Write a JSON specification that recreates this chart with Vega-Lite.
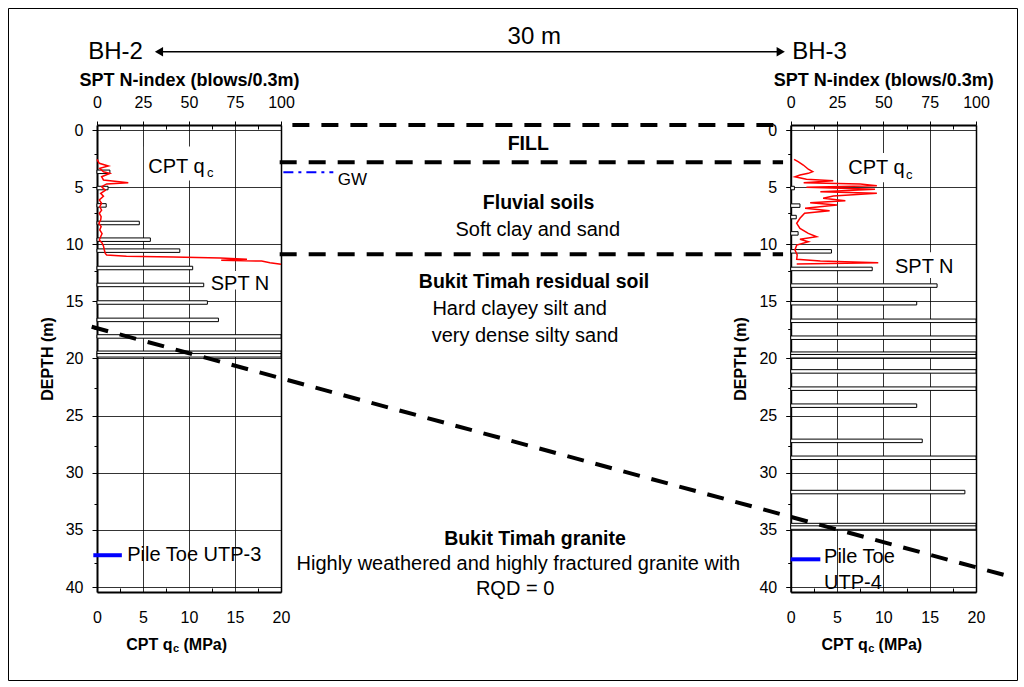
{
  "$schema": "https://vega.github.io/schema/vega-lite/v6.json",
  "width": 1009,
  "height": 672,
  "autosize": "none",
  "padding": {"left": 8, "top": 8, "right": 7, "bottom": 7},
  "background": "white",
  "config": {
    "font": "Liberation Sans",
    "view": {"stroke": "black", "strokeWidth": 1},
    "axis": {
      "labelFont": "Liberation Sans", "labelFontSize": 16, "labelColor": "black",
      "titleFont": "Liberation Sans", "titleColor": "black", "titleFontSize": 16, "titleFontWeight": "bold",
      "domainColor": "black", "tickColor": "black", "gridColor": "black", "gridOpacity": 1, "gridWidth": 0.8,
      "labelFlush": false, "labelOverlap": false, "labelBound": false
    },
    "text": {"font": "Liberation Sans", "color": "black"}
  },
  "resolve": {"scale": {"x": "independent", "y": "independent"}, "axis": {"x": "independent", "y": "independent"}},
  "layer": [
    {
      "data": {"values": [
        {"depth": 3.66, "N": 7}, {"depth": 5.08, "N": 6}, {"depth": 6.6, "N": 5}, {"depth": 8.14, "N": 23},
        {"depth": 9.6, "N": 29}, {"depth": 10.56, "N": 45}, {"depth": 12.08, "N": 52}, {"depth": 13.56, "N": 58},
        {"depth": 15.1, "N": 60}, {"depth": 16.62, "N": 66}, {"depth": 18.07, "N": 100}, {"depth": 19.5, "N": 100},
        {"depth": 19.72, "N": 100}
      ]},
      "mark": {"type": "bar", "orient": "horizontal", "height": 3.5, "fill": "white", "stroke": "black", "strokeWidth": 1},
      "encoding": {
        "x": {"field": "N", "type": "quantitative", "stack": null,
          "scale": {"domain": [0, 100], "range": [89, 273], "nice": false},
          "axis": {"orient": "top", "offset": -117, "values": [0, 25, 50, 75, 100], "title": "SPT N-index (blows/0.3m)",
            "grid": true, "tickSize": 4, "labelPadding": 11, "titlePadding": 5, "domainWidth": 2, "titleFontSize": 18}},
        "y": {"field": "depth", "type": "quantitative",
          "scale": {"domain": [0, 40], "range": [117, 584], "nice": false},
          "axis": {"orient": "left", "offset": -89, "values": [0, 5, 10, 15, 20, 25, 30, 35, 40], "title": "DEPTH  (m)",
            "grid": true, "tickSize": 5, "labelPadding": 9, "titlePadding": 10, "domainWidth": 2}}
      }
    },
    {
      "data": {"values": [
        {"depth": 2.94, "qc": 0}, {"depth": 3.28, "qc": 0.25}, {"depth": 3.51, "qc": 1.23}, {"depth": 3.71, "qc": 0.3},
        {"depth": 4.0, "qc": 0.7}, {"depth": 4.14, "qc": 1.4}, {"depth": 4.43, "qc": 0.5}, {"depth": 4.71, "qc": 0.7},
        {"depth": 4.94, "qc": 3.4}, {"depth": 5.05, "qc": 1.05}, {"depth": 5.28, "qc": 0.5}, {"depth": 5.6, "qc": 0.9},
        {"depth": 5.85, "qc": 0.4}, {"depth": 6.1, "qc": 0.7}, {"depth": 6.42, "qc": 0.25}, {"depth": 6.7, "qc": 0.5},
        {"depth": 7.0, "qc": 0.3}, {"depth": 7.3, "qc": 0.5}, {"depth": 7.56, "qc": 0.25}, {"depth": 7.85, "qc": 0.45},
        {"depth": 8.14, "qc": 0.4}, {"depth": 8.42, "qc": 0.2}, {"depth": 8.7, "qc": 0.45}, {"depth": 8.99, "qc": 0.3},
        {"depth": 9.3, "qc": 0.55}, {"depth": 9.57, "qc": 0.4}, {"depth": 9.85, "qc": 0.25}, {"depth": 10.1, "qc": 0.55},
        {"depth": 10.36, "qc": 0.7}, {"depth": 10.71, "qc": 0.8}, {"depth": 11.0, "qc": 0.9}, {"depth": 11.13, "qc": 1.05},
        {"depth": 11.25, "qc": 3.2}, {"depth": 11.3, "qc": 8.3}, {"depth": 11.39, "qc": 13.4}, {"depth": 11.5, "qc": 16.3},
        {"depth": 11.59, "qc": 13.5}, {"depth": 11.65, "qc": 17.9}, {"depth": 11.79, "qc": 18.8}, {"depth": 11.93, "qc": 20}
      ]},
      "mark": {"type": "line", "color": "#FF0000", "strokeWidth": 1.5},
      "encoding": {
        "x": {"field": "qc", "type": "quantitative",
          "scale": {"domain": [0, 20], "range": [89, 273], "nice": false},
          "axis": {"orient": "bottom", "offset": -88, "values": [0, 5, 10, 15, 20], "title": null, "ticks": false,
            "labelPadding": 17, "domainWidth": 2, "grid": false}},
        "y": {"field": "depth", "type": "quantitative",
          "scale": {"domain": [0, 40], "range": [117, 584], "nice": false},
          "axis": {"orient": "right", "offset": -736, "labels": false, "ticks": false, "grid": false, "title": null, "domainWidth": 1.5}},
        "order": {"field": "depth", "type": "quantitative"}
      }
    },
    {
      "data": {"values": [{"q0": 5.1, "q1": 13.6, "d0": 1.85, "d1": 4.75}, {"q0": 12.0, "q1": 19.8, "d0": 12.5, "d1": 14.1}]},
      "mark": {"type": "rect", "fill": "white"},
      "encoding": {
        "x": {"field": "q0", "type": "quantitative",
          "scale": {"domain": [0, 20], "range": [89, 273], "nice": false},
          "axis": {"orient": "top", "offset": -117, "values": [2.5, 7.5, 12.5, 17.5], "labels": false, "domain": false,
            "grid": false, "title": null, "tickSize": -4}},
        "x2": {"field": "q1"},
        "y": {"field": "d0", "type": "quantitative",
          "scale": {"domain": [0, 40], "range": [117, 584], "nice": false},
          "axis": {"orient": "left", "offset": -89, "values": [2.5, 7.5, 12.5, 17.5, 22.5, 27.5, 32.5, 37.5], "labels": false,
            "domain": false, "grid": false, "title": null, "tickSize": 3}},
        "y2": {"field": "d1"}
      }
    },
    {
      "data": {"values": [
        {"t": "CPT q", "qc": 5.58, "depth": 3.57},
        {"t": "SPT N", "qc": 12.36, "depth": 13.62},
        {"t": "Pile Toe UTP-3", "qc": 3.29, "depth": 36.83}
      ]},
      "mark": {"type": "text", "align": "left", "baseline": "middle", "fontSize": 20},
      "encoding": {
        "x": {"field": "qc", "type": "quantitative",
          "scale": {"domain": [0, 20], "range": [89, 273], "nice": false},
          "axis": {"orient": "bottom", "offset": -88, "values": [2.5, 7.5, 12.5, 17.5], "labels": false, "domain": false,
            "grid": false, "title": null, "tickSize": -4}},
        "y": {"field": "depth", "type": "quantitative",
          "scale": {"domain": [0, 40], "range": [117, 584], "nice": false}, "axis": null},
        "text": {"field": "t"}
      }
    },
    {
      "data": {"values": [{"t": "c", "qc": 11.95, "depth": 4.1}]},
      "mark": {"type": "text", "align": "left", "baseline": "middle", "fontSize": 13},
      "encoding": {
        "x": {"field": "qc", "type": "quantitative", "scale": {"domain": [0, 20], "range": [89, 273], "nice": false}, "axis": null},
        "y": {"field": "depth", "type": "quantitative", "scale": {"domain": [0, 40], "range": [117, 584], "nice": false}, "axis": null},
        "text": {"field": "t"}
      }
    },
    {
      "data": {"values": [{"t": "Pile Toe UTP-3", "q0": -0.4, "q1": 2.7, "depth": 36.85}]},
      "mark": {"type": "rule", "color": "#0000FF", "strokeWidth": 4},
      "encoding": {
        "x": {"field": "q0", "type": "quantitative", "scale": {"domain": [0, 20], "range": [89, 273], "nice": false}, "axis": null},
        "x2": {"field": "q1"},
        "y": {"field": "depth", "type": "quantitative", "scale": {"domain": [0, 40], "range": [117, 584], "nice": false}, "axis": null}
      }
    },
    {
      "data": {"values": [{"t": "CPT q", "qc": 8.2, "depth": 44.54}]},
      "mark": {"type": "text", "align": "right", "baseline": "middle", "fontSize": 16, "fontWeight": "bold"},
      "encoding": {
        "x": {"field": "qc", "type": "quantitative", "scale": {"domain": [0, 20], "range": [89, 273], "nice": false}, "axis": null},
        "y": {"field": "depth", "type": "quantitative", "scale": {"domain": [0, 40], "range": [117, 584], "nice": false}, "axis": null},
        "text": {"field": "t"}
      }
    },
    {
      "data": {"values": [{"t": "(MPa)", "qc": 9.4, "depth": 44.54}]},
      "mark": {"type": "text", "align": "left", "baseline": "middle", "fontSize": 16, "fontWeight": "bold"},
      "encoding": {
        "x": {"field": "qc", "type": "quantitative", "scale": {"domain": [0, 20], "range": [89, 273], "nice": false}, "axis": null},
        "y": {"field": "depth", "type": "quantitative", "scale": {"domain": [0, 40], "range": [117, 584], "nice": false}, "axis": null},
        "text": {"field": "t"}
      }
    },
    {
      "data": {"values": [{"t": "c", "qc": 8.27, "depth": 44.85}]},
      "mark": {"type": "text", "align": "left", "baseline": "middle", "fontSize": 11, "fontWeight": "bold"},
      "encoding": {
        "x": {"field": "qc", "type": "quantitative", "scale": {"domain": [0, 20], "range": [89, 273], "nice": false}, "axis": null},
        "y": {"field": "depth", "type": "quantitative", "scale": {"domain": [0, 40], "range": [117, 584], "nice": false}, "axis": null},
        "text": {"field": "t"}
      }
    },

    {
      "data": {"values": [
        {"depth": 5.08, "N": 2}, {"depth": 6.62, "N": 5}, {"depth": 7.62, "N": 3}, {"depth": 9.05, "N": 4},
        {"depth": 10.62, "N": 22}, {"depth": 12.16, "N": 44}, {"depth": 13.62, "N": 79}, {"depth": 15.16, "N": 68},
        {"depth": 16.7, "N": 100}, {"depth": 18.18, "N": 100}, {"depth": 19.58, "N": 100}, {"depth": 19.8, "N": 100},
        {"depth": 21.13, "N": 100}, {"depth": 22.64, "N": 100}, {"depth": 24.13, "N": 68}, {"depth": 27.21, "N": 71},
        {"depth": 28.69, "N": 100}, {"depth": 31.69, "N": 94}, {"depth": 34.58, "N": 100}, {"depth": 34.8, "N": 100}
      ]},
      "mark": {"type": "bar", "orient": "horizontal", "height": 3.5, "fill": "white", "stroke": "black", "strokeWidth": 1},
      "encoding": {
        "x": {"field": "N", "type": "quantitative", "stack": null,
          "scale": {"domain": [0, 100], "range": [782.7, 968], "nice": false},
          "axis": {"orient": "top", "offset": -117, "values": [0, 25, 50, 75, 100], "title": "SPT N-index (blows/0.3m)",
            "grid": true, "tickSize": 4, "labelPadding": 11, "titlePadding": 5, "domainWidth": 2, "titleFontSize": 18}},
        "y": {"field": "depth", "type": "quantitative",
          "scale": {"domain": [0, 40], "range": [117, 584], "nice": false},
          "axis": {"orient": "left", "offset": -782.7, "values": [0, 5, 10, 15, 20, 25, 30, 35, 40], "title": "DEPTH  (m)",
            "grid": true, "tickSize": 5, "labelPadding": 9, "titlePadding": 10, "domainWidth": 2}}
      }
    },
    {
      "data": {"values": [
        {"depth": 2.94, "qc": 0.36}, {"depth": 3.14, "qc": 0.8}, {"depth": 3.43, "qc": 1.36}, {"depth": 3.62, "qc": 1.65},
        {"depth": 3.79, "qc": 1.9}, {"depth": 4.0, "qc": 2.37}, {"depth": 4.14, "qc": 1.9}, {"depth": 4.28, "qc": 1.0},
        {"depth": 4.43, "qc": 0.46}, {"depth": 4.65, "qc": 1.7}, {"depth": 4.77, "qc": 4.6}, {"depth": 4.94, "qc": 1.4},
        {"depth": 5.05, "qc": 7.5}, {"depth": 5.2, "qc": 9.3}, {"depth": 5.34, "qc": 1.7}, {"depth": 5.51, "qc": 9.1},
        {"depth": 5.71, "qc": 3.2}, {"depth": 5.85, "qc": 9.3}, {"depth": 6.08, "qc": 4.6}, {"depth": 6.28, "qc": 3.5},
        {"depth": 6.48, "qc": 5.9}, {"depth": 6.66, "qc": 2.1}, {"depth": 6.85, "qc": 5.0}, {"depth": 7.13, "qc": 1.55},
        {"depth": 7.34, "qc": 4.2}, {"depth": 7.56, "qc": 1.5}, {"depth": 7.99, "qc": 1.0}, {"depth": 8.42, "qc": 0.65},
        {"depth": 8.85, "qc": 1.0}, {"depth": 9.28, "qc": 1.9}, {"depth": 9.57, "qc": 2.8}, {"depth": 9.79, "qc": 1.0},
        {"depth": 10.0, "qc": 1.9}, {"depth": 10.28, "qc": 0.65}, {"depth": 10.71, "qc": 0.46}, {"depth": 11.13, "qc": 0.7},
        {"depth": 11.5, "qc": 0.65}, {"depth": 11.65, "qc": 3.2}, {"depth": 11.79, "qc": 9.45}, {"depth": 11.91, "qc": 0.65}
      ]},
      "mark": {"type": "line", "color": "#FF0000", "strokeWidth": 1.5},
      "encoding": {
        "x": {"field": "qc", "type": "quantitative",
          "scale": {"domain": [0, 20], "range": [782.7, 968], "nice": false},
          "axis": {"orient": "bottom", "offset": -88, "values": [0, 5, 10, 15, 20], "title": null, "ticks": false,
            "labelPadding": 17, "domainWidth": 2, "grid": false}},
        "y": {"field": "depth", "type": "quantitative",
          "scale": {"domain": [0, 40], "range": [117, 584], "nice": false},
          "axis": {"orient": "right", "offset": -41, "labels": false, "ticks": false, "grid": false, "title": null, "domainWidth": 1.5}},
        "order": {"field": "depth", "type": "quantitative"}
      }
    },
    {
      "data": {"values": [{"q0": 5.9, "q1": 14.3, "d0": 2.4, "d1": 4.9}, {"q0": 10.7, "q1": 18.8, "d0": 10.9, "d1": 13.1}]},
      "mark": {"type": "rect", "fill": "white"},
      "encoding": {
        "x": {"field": "q0", "type": "quantitative",
          "scale": {"domain": [0, 20], "range": [782.7, 968], "nice": false},
          "axis": {"orient": "top", "offset": -117, "values": [2.5, 7.5, 12.5, 17.5], "labels": false, "domain": false,
            "grid": false, "title": null, "tickSize": -4}},
        "x2": {"field": "q1"},
        "y": {"field": "d0", "type": "quantitative",
          "scale": {"domain": [0, 40], "range": [117, 584], "nice": false},
          "axis": {"orient": "left", "offset": -782.7, "values": [2.5, 7.5, 12.5, 17.5, 22.5, 27.5, 32.5, 37.5], "labels": false,
            "domain": false, "grid": false, "title": null, "tickSize": 3}},
        "y2": {"field": "d1"}
      }
    },
    {
      "data": {"values": [
        {"t": "CPT q", "qc": 6.22, "depth": 3.71},
        {"t": "SPT N", "qc": 11.26, "depth": 12.14},
        {"t": "Pile Toe", "qc": 3.6, "depth": 37.0},
        {"t": "UTP-4", "qc": 3.6, "depth": 39.25}
      ]},
      "mark": {"type": "text", "align": "left", "baseline": "middle", "fontSize": 20},
      "encoding": {
        "x": {"field": "qc", "type": "quantitative",
          "scale": {"domain": [0, 20], "range": [782.7, 968], "nice": false},
          "axis": {"orient": "bottom", "offset": -88, "values": [2.5, 7.5, 12.5, 17.5], "labels": false, "domain": false,
            "grid": false, "title": null, "tickSize": -4}},
        "y": {"field": "depth", "type": "quantitative",
          "scale": {"domain": [0, 40], "range": [117, 584], "nice": false}, "axis": null},
        "text": {"field": "t"}
      }
    },
    {
      "data": {"values": [{"t": "c", "qc": 12.45, "depth": 4.25}]},
      "mark": {"type": "text", "align": "left", "baseline": "middle", "fontSize": 13},
      "encoding": {
        "x": {"field": "qc", "type": "quantitative", "scale": {"domain": [0, 20], "range": [782.7, 968], "nice": false}, "axis": null},
        "y": {"field": "depth", "type": "quantitative", "scale": {"domain": [0, 40], "range": [117, 584], "nice": false}, "axis": null},
        "text": {"field": "t"}
      }
    },
    {
      "data": {"values": [{"t": "Pile Toe UTP-4", "q0": 0, "q1": 3.2, "depth": 37.2}]},
      "mark": {"type": "rule", "color": "#0000FF", "strokeWidth": 4},
      "encoding": {
        "x": {"field": "q0", "type": "quantitative", "scale": {"domain": [0, 20], "range": [782.7, 968], "nice": false}, "axis": null},
        "x2": {"field": "q1"},
        "y": {"field": "depth", "type": "quantitative", "scale": {"domain": [0, 40], "range": [117, 584], "nice": false}, "axis": null}
      }
    },
    {
      "data": {"values": [{"t": "CPT q", "qc": 8.31, "depth": 44.54}]},
      "mark": {"type": "text", "align": "right", "baseline": "middle", "fontSize": 16, "fontWeight": "bold"},
      "encoding": {
        "x": {"field": "qc", "type": "quantitative", "scale": {"domain": [0, 20], "range": [782.7, 968], "nice": false}, "axis": null},
        "y": {"field": "depth", "type": "quantitative", "scale": {"domain": [0, 40], "range": [117, 584], "nice": false}, "axis": null},
        "text": {"field": "t"}
      }
    },
    {
      "data": {"values": [{"t": "(MPa)", "qc": 9.49, "depth": 44.54}]},
      "mark": {"type": "text", "align": "left", "baseline": "middle", "fontSize": 16, "fontWeight": "bold"},
      "encoding": {
        "x": {"field": "qc", "type": "quantitative", "scale": {"domain": [0, 20], "range": [782.7, 968], "nice": false}, "axis": null},
        "y": {"field": "depth", "type": "quantitative", "scale": {"domain": [0, 40], "range": [117, 584], "nice": false}, "axis": null},
        "text": {"field": "t"}
      }
    },
    {
      "data": {"values": [{"t": "c", "qc": 8.37, "depth": 44.85}]},
      "mark": {"type": "text", "align": "left", "baseline": "middle", "fontSize": 11, "fontWeight": "bold"},
      "encoding": {
        "x": {"field": "qc", "type": "quantitative", "scale": {"domain": [0, 20], "range": [782.7, 968], "nice": false}, "axis": null},
        "y": {"field": "depth", "type": "quantitative", "scale": {"domain": [0, 40], "range": [117, 584], "nice": false}, "axis": null},
        "text": {"field": "t"}
      }
    },

    {
      "data": {"values": [{"depth": 0, "x0": 8.45, "x1": 29.5}, {"depth": 3.2, "x0": 7.9, "x1": 29.67}, {"depth": 11.06, "x0": 7.9, "x1": 29.67}]},
      "mark": {"type": "rule", "color": "black", "strokeWidth": 4, "strokeDash": [17, 12]},
      "encoding": {
        "x": {"field": "x0", "type": "quantitative", "scale": {"domain": [0, 30], "range": [89, 782.7], "nice": false}, "axis": null},
        "x2": {"field": "x1"},
        "y": {"field": "depth", "type": "quantitative", "scale": {"domain": [0, 40], "range": [117, 584], "nice": false}, "axis": null}
      }
    },
    {
      "data": {"values": [{"x0": -0.23, "d0": 17.28, "x1": 39.4, "d1": 38.63}]},
      "mark": {"type": "rule", "color": "black", "strokeWidth": 4, "strokeDash": [17, 12]},
      "encoding": {
        "x": {"field": "x0", "type": "quantitative", "scale": {"domain": [0, 30], "range": [89, 782.7], "nice": false}, "axis": null},
        "x2": {"field": "x1"},
        "y": {"field": "d0", "type": "quantitative", "scale": {"domain": [0, 40], "range": [117, 584], "nice": false}, "axis": null},
        "y2": {"field": "d1"}
      }
    },
    {
      "data": {"values": [{"depth": 4.05, "x0": 8.06, "x1": 10.22}]},
      "mark": {"type": "rule", "color": "#0000FF", "strokeWidth": 2, "strokeDash": [10, 5, 3, 5]},
      "encoding": {
        "x": {"field": "x0", "type": "quantitative", "scale": {"domain": [0, 30], "range": [89, 782.7], "nice": false}, "axis": null},
        "x2": {"field": "x1"},
        "y": {"field": "depth", "type": "quantitative", "scale": {"domain": [0, 40], "range": [117, 584], "nice": false}, "axis": null}
      }
    },
    {
      "data": {"values": [{"t": "GW", "x": 10.41, "depth": 4.71}]},
      "mark": {"type": "text", "align": "left", "baseline": "middle", "fontSize": 17},
      "encoding": {
        "x": {"field": "x", "type": "quantitative", "scale": {"domain": [0, 30], "range": [89, 782.7], "nice": false}, "axis": null},
        "y": {"field": "depth", "type": "quantitative", "scale": {"domain": [0, 40], "range": [117, 584], "nice": false}, "axis": null},
        "text": {"field": "t"}
      }
    },
    {
      "data": {"values": [{"depth": -6.28, "x0": 2.68, "x1": 29.57}]},
      "mark": {"type": "rule", "color": "black", "strokeWidth": 1.5},
      "encoding": {
        "x": {"field": "x0", "type": "quantitative", "scale": {"domain": [0, 30], "range": [89, 782.7], "nice": false}, "axis": null},
        "x2": {"field": "x1"},
        "y": {"field": "depth", "type": "quantitative", "scale": {"domain": [0, 40], "range": [117, 584], "nice": false}, "axis": null}
      }
    },
    {
      "data": {"values": [{"depth": -6.28, "x": 2.68}]},
      "mark": {"type": "point", "shape": "triangle-left", "filled": true, "color": "black", "size": 90, "opacity": 1},
      "encoding": {
        "x": {"field": "x", "type": "quantitative", "scale": {"domain": [0, 30], "range": [89, 782.7], "nice": false}, "axis": null},
        "y": {"field": "depth", "type": "quantitative", "scale": {"domain": [0, 40], "range": [117, 584], "nice": false}, "axis": null}
      }
    },
    {
      "data": {"values": [{"depth": -6.28, "x": 29.57}]},
      "mark": {"type": "point", "shape": "triangle-right", "filled": true, "color": "black", "size": 90, "opacity": 1},
      "encoding": {
        "x": {"field": "x", "type": "quantitative", "scale": {"domain": [0, 30], "range": [89, 782.7], "nice": false}, "axis": null},
        "y": {"field": "depth", "type": "quantitative", "scale": {"domain": [0, 40], "range": [117, 584], "nice": false}, "axis": null}
      }
    },
    {
      "data": {"values": [{"t": "BH-2", "x": 0.8, "depth": -6.25}, {"t": "BH-3", "x": 31.25, "depth": -6.25}, {"t": "30 m", "x": 18.91, "depth": -7.51}]},
      "mark": {"type": "text", "align": "center", "baseline": "middle", "fontSize": 24},
      "encoding": {
        "x": {"field": "x", "type": "quantitative", "scale": {"domain": [0, 30], "range": [89, 782.7], "nice": false}, "axis": null},
        "y": {"field": "depth", "type": "quantitative", "scale": {"domain": [0, 40], "range": [117, 584], "nice": false}, "axis": null},
        "text": {"field": "t"}
      }
    },
    {
      "data": {"values": [
        {"t": "FILL", "x": 18.65, "depth": 1.63},
        {"t": "Fluvial soils", "x": 19.1, "depth": 6.71},
        {"t": "Bukit Timah residual soil", "x": 18.9, "depth": 13.42},
        {"t": "Bukit Timah granite", "x": 18.94, "depth": 35.49}
      ]},
      "mark": {"type": "text", "align": "center", "baseline": "middle", "fontSize": 19.5, "fontWeight": "bold"},
      "encoding": {
        "x": {"field": "x", "type": "quantitative", "scale": {"domain": [0, 30], "range": [89, 782.7], "nice": false}, "axis": null},
        "y": {"field": "depth", "type": "quantitative", "scale": {"domain": [0, 40], "range": [117, 584], "nice": false}, "axis": null},
        "text": {"field": "t"}
      }
    },
    {
      "data": {"values": [
        {"t": "Soft clay and sand", "x": 19.06, "depth": 8.99},
        {"t": "Hard clayey silt and", "x": 18.28, "depth": 15.79},
        {"t": "very dense silty sand", "x": 18.51, "depth": 18.07},
        {"t": "Highly weathered and highly fractured granite with", "x": 18.22, "depth": 37.63},
        {"t": "RQD = 0", "x": 18.08, "depth": 39.77}
      ]},
      "mark": {"type": "text", "align": "center", "baseline": "middle", "fontSize": 20},
      "encoding": {
        "x": {"field": "x", "type": "quantitative", "scale": {"domain": [0, 30], "range": [89, 782.7], "nice": false}, "axis": null},
        "y": {"field": "depth", "type": "quantitative", "scale": {"domain": [0, 40], "range": [117, 584], "nice": false}, "axis": null},
        "text": {"field": "t"}
      }
    }
  ]
}
